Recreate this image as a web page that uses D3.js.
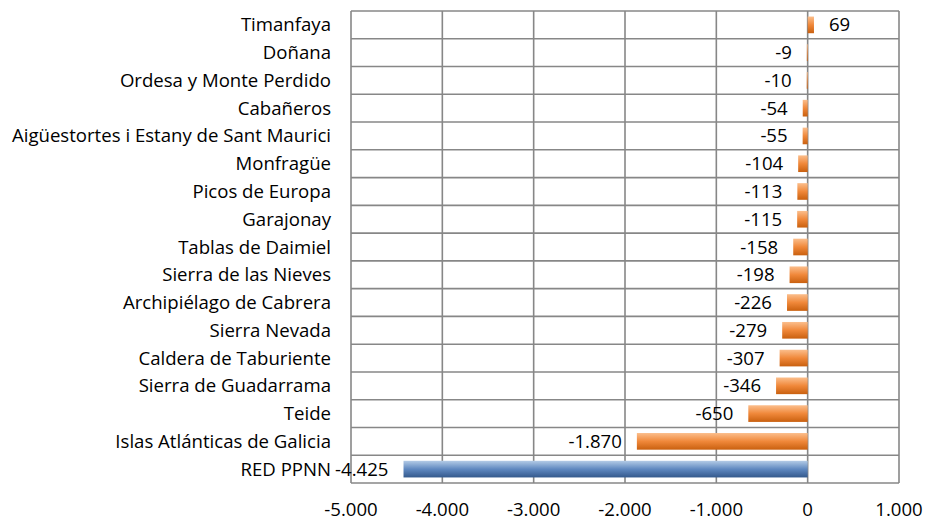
<!DOCTYPE html>
<html>
<head>
<meta charset="utf-8">
<script src="https://cdn.jsdelivr.net/npm/d3@7"></script>
<style>
  body { margin: 0; background: #fff; }
  svg text { font-family: "Open Sans", Carlito, Calibri, sans-serif; fill: #000; }
</style>
</head>
<body>
<div id="chart"></div>
<script>
// Parks, top to bottom as drawn
const parks = [
  "Timanfaya", "Doñana", "Ordesa y Monte Perdido", "Cabañeros",
  "Aigüestortes i Estany de Sant Maurici", "Monfragüe", "Picos de Europa",
  "Garajonay", "Tablas de Daimiel", "Sierra de las Nieves",
  "Archipiélago de Cabrera", "Sierra Nevada", "Caldera de Taburiente",
  "Sierra de Guadarrama", "Teide", "Islas Atlánticas de Galicia", "RED PPNN"
];
const changes = [69, -9, -10, -54, -55, -104, -113, -115, -158, -198, -226, -279, -307, -346, -650, -1870, -4425];
const xTicks = [-5000, -4000, -3000, -2000, -1000, 0, 1000];

const width = 925, height = 521;
const margin = { top: 11, right: 26, bottom: 38, left: 351 };
const fontSize = 18.6;

const esLocale = d3.formatLocale({ decimal: ",", thousands: ".", grouping: [3], currency: ["", "€"], minus: "-" });
const fmt = esLocale.format(",d");

const svg = d3.select("#chart").append("svg")
  .attr("width", width).attr("height", height);

// gradients like the old office bars
const defs = svg.append("defs");
function grad(id, top, mid, bottom) {
  const g = defs.append("linearGradient").attr("id", id)
    .attr("x1", 0).attr("y1", 0).attr("x2", 0).attr("y2", 1);
  g.append("stop").attr("offset", "0%").attr("stop-color", top);
  g.append("stop").attr("offset", "50%").attr("stop-color", mid);
  g.append("stop").attr("offset", "100%").attr("stop-color", bottom);
}
grad("gOrange", "#fbbe8c", "#f0883a", "#c9600f");
grad("gBlue", "#b3cbe6", "#5f88c0", "#34598c");

const x = d3.scaleLinear().domain([-5000, 1000])
  .range([margin.left, width - margin.right]);
const y = d3.scaleBand().domain(parks)
  .range([margin.top, height - margin.bottom])
  .paddingInner(0.4).paddingOuter(0.2);
// row lines use full band steps
const step = y.step();
const rowEdges = d3.range(parks.length + 1).map(i => margin.top + i * step);

const grid = svg.append("g").attr("stroke", "#878787").attr("stroke-width", 1.6);
grid.selectAll("line.v").data(xTicks).join("line")
  .attr("class", "v")
  .attr("x1", d => x(d)).attr("x2", d => x(d))
  .attr("y1", margin.top).attr("y2", height - margin.bottom);
grid.selectAll("line.h").data(rowEdges).join("line")
  .attr("class", "h")
  .attr("x1", margin.left).attr("x2", width - margin.right)
  .attr("y1", d => d).attr("y2", d => d);

const data = parks.map((p, i) => ({ park: p, value: changes[i] }));

svg.append("g").selectAll("rect").data(data).join("rect")
  .attr("x", d => x(Math.min(0, d.value)))
  .attr("width", d => Math.abs(x(d.value) - x(0)))
  .attr("y", d => y(d.park))
  .attr("height", y.bandwidth())
  .attr("fill", d => d.park === "RED PPNN" ? "url(#gBlue)" : "url(#gOrange)");

// data labels
svg.append("g").selectAll("text").data(data).join("text")
  .attr("x", d => d.value < 0 ? x(d.value) - 15 : x(d.value) + 15)
  .attr("y", d => y(d.park) + y.bandwidth() / 2)
  .attr("dy", "0.35em")
  .attr("text-anchor", d => d.value < 0 ? "end" : "start")
  .attr("font-size", fontSize)
  .text(d => fmt(d.value));

// category labels
svg.append("g").selectAll("text").data(parks).join("text")
  .attr("x", 331)
  .attr("y", d => y(d) + y.bandwidth() / 2)
  .attr("dy", "0.35em")
  .attr("text-anchor", "end")
  .attr("font-size", fontSize)
  .text(d => d);

// x axis labels
svg.append("g").selectAll("text").data(xTicks).join("text")
  .attr("x", d => x(d))
  .attr("y", 516)
  .attr("text-anchor", "middle")
  .attr("font-size", fontSize)
  .text(d => fmt(d));
</script>
</body>
</html>
